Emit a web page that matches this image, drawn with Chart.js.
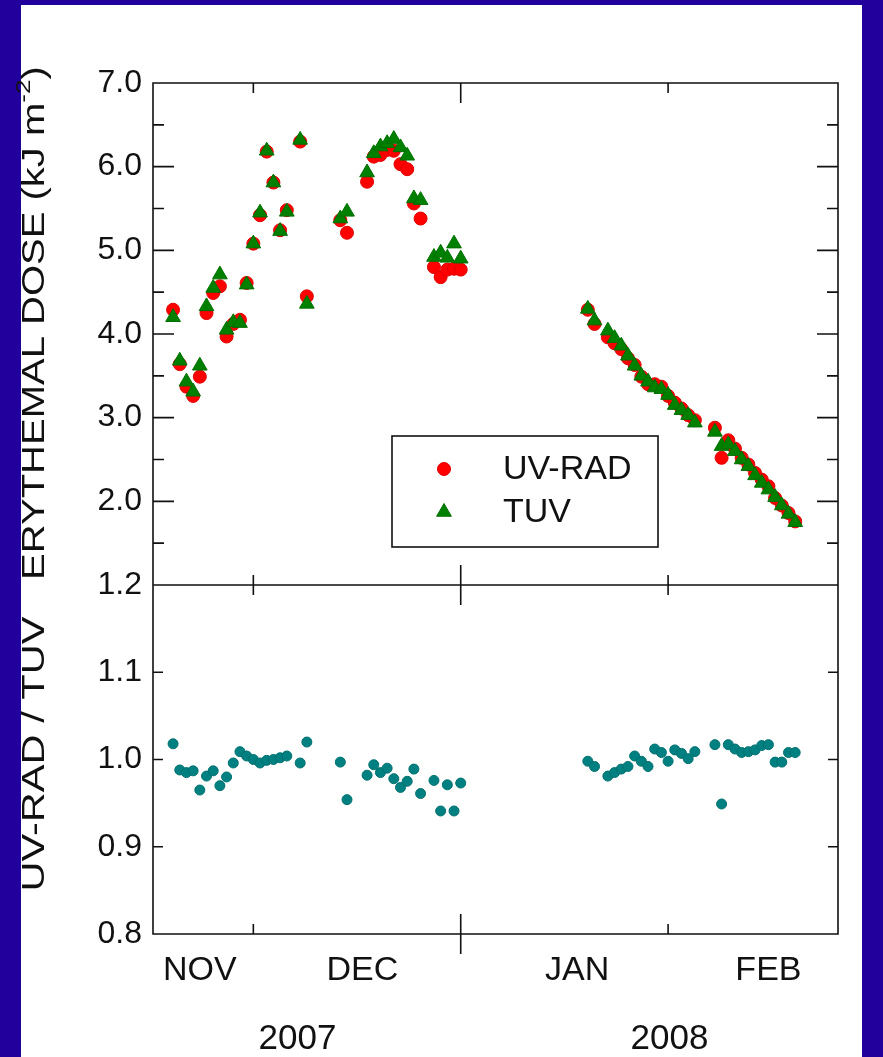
<!DOCTYPE html>
<html>
<head>
<meta charset="utf-8">
<script src="https://cdn.jsdelivr.net/npm/chart.js@4.4.1/dist/chart.umd.min.js"></script>
<style>
  html, body { margin: 0; padding: 0; background: #22009c; }
  #page { position: relative; width: 883px; height: 1057px; overflow: hidden; }
  #sheet { position: absolute; left: 21px; top: 5px; width: 841px; height: 1052px; background: #ffffff; }
  #c { position: absolute; left: 0; top: 0; }
</style>
</head>
<body>
<div id="page">
  <div id="sheet"></div>
  <canvas id="c" width="883" height="1057"></canvas>
</div>
<script>
// Day of each measurement, counted from 1 Nov 2007 (1 Dec = 30, 1 Jan = 61, 1 Feb = 92)
const DAYS = [18, 19, 20, 21, 22, 23, 24, 25, 26, 27, 28, 29, 30, 31, 32, 33, 34, 35, 37, 38,
              43, 44, 47, 48, 49, 50, 51, 52, 53, 54, 55, 57, 58, 59, 60, 61,
              80, 81, 83, 84, 85, 86, 87, 88, 89, 90, 91, 92, 93, 94, 95, 96,
              99, 100, 101, 102, 103, 104, 105, 106, 107, 108, 109, 110, 111];

// Daily erythemal dose, kJ m-2
const UV_RAD = [4.29, 3.64, 3.37, 3.26, 3.49, 4.25, 4.49, 4.57, 3.97, 4.12, 4.17, 4.61, 5.08, 5.42, 6.18, 5.81, 5.24, 5.48, 6.30, 4.45,
                5.36, 5.21, 5.82, 6.12, 6.14, 6.20, 6.19, 6.03, 5.97, 5.56, 5.38, 4.80, 4.68, 4.77, 4.78, 4.77,
                4.29, 4.12, 3.96, 3.89, 3.82, 3.71, 3.63, 3.49, 3.40, 3.40, 3.37, 3.26, 3.18, 3.11, 3.03, 2.97,
                2.88, 2.52, 2.73, 2.63, 2.52, 2.44, 2.34, 2.26, 2.18, 2.04, 1.95, 1.86, 1.76];
const TUV    = [4.20, 3.68, 3.43, 3.31, 3.62, 4.33, 4.55, 4.71, 4.05, 4.14, 4.13, 4.59, 5.08, 5.45, 6.19, 5.81, 5.23, 5.46, 6.32, 4.36,
                5.38, 5.46, 5.93, 6.16, 6.24, 6.28, 6.33, 6.23, 6.13, 5.62, 5.60, 4.92, 4.97, 4.91, 5.08, 4.90,
                4.30, 4.16, 4.04, 3.95, 3.86, 3.74, 3.62, 3.50, 3.43, 3.36, 3.34, 3.27, 3.15, 3.09, 3.03, 2.94,
                2.83, 2.66, 2.68, 2.60, 2.50, 2.42, 2.31, 2.22, 2.14, 2.05, 1.95, 1.85, 1.75];

// UV-RAD / TUV ratio for the same days
const RATIO  = [1.018, 0.988, 0.985, 0.987, 0.965, 0.981, 0.987, 0.970, 0.980, 0.996, 1.009, 1.004, 1.000, 0.996, 0.999, 1.000, 1.002, 1.004, 0.996, 1.020,
                0.997, 0.954, 0.982, 0.994, 0.985, 0.990, 0.978, 0.968, 0.975, 0.989, 0.961, 0.976, 0.941, 0.971, 0.941, 0.973,
                0.998, 0.992, 0.981, 0.985, 0.989, 0.992, 1.004, 0.998, 0.992, 1.012, 1.008, 0.998, 1.011, 1.007, 1.001, 1.009,
                1.017, 0.949, 1.017, 1.012, 1.008, 1.009, 1.011, 1.016, 1.017, 0.997, 0.997, 1.008, 1.008];

// Time axis
const MONTH_LABELS = ['NOV', 'DEC', 'JAN', 'FEB'];
const MONTH_LABEL_DAYS = [22, 46.3, 78.4, 107];
const MONTH_START_DAYS = [30, 61, 92];
const YEAR_START_DAY = 61;
const YEAR_LABELS = ['2007', '2008'];
const YEAR_LABEL_DAYS = [36.6, 92.2];

// Value axes
const DOSE_TICKS = [1, 2, 3, 4, 5, 6, 7];
const RATIO_TICKS = [0.8, 0.9, 1.0, 1.1, 1.2];

const FAMILY = "'Liberation Sans', Arial, Helvetica, sans-serif";
const INK = '#111111';

function pts(xs, ys) { return xs.map((x, i) => ({ x: x, y: ys[i] })); }

// Vertical axis title, drawn bottom-to-top and stretched along its length
function verticalTitle(ctx, parts, cx, cy, stretch) {
  ctx.save();
  ctx.translate(cx, cy);
  ctx.rotate(-Math.PI / 2);
  ctx.scale(stretch, 1);
  ctx.textAlign = 'left';
  ctx.textBaseline = 'middle';
  let total = 0;
  parts.forEach(p => { ctx.font = p.font; p.w = ctx.measureText(p.text).width; total += p.w; });
  let sx = -total / 2;
  parts.forEach(p => { ctx.font = p.font; ctx.fillText(p.text, sx, p.dy || 0); sx += p.w; });
  ctx.restore();
}

// Plot frame, inward tick marks, axis titles, year labels and the legend box
const decorations = {
  id: 'decorations',
  beforeDatasetsDraw(chart) {
    const ctx = chart.ctx;
    const x = chart.scales.x, y = chart.scales.y, y2 = chart.scales.y2;
    const L = x.left, R = x.right;
    ctx.save();
    ctx.strokeStyle = INK;
    ctx.lineWidth = 1.6;
    ctx.beginPath();
    ctx.rect(L, y.top, R - L, y.bottom - y.top);
    ctx.rect(L, y2.top, R - L, y2.bottom - y2.top);
    // dose axis: major ticks at labels, minor ticks between
    const majors = y.ticks.map(t => t.value);
    majors.forEach((v, i) => {
      const p = y.getPixelForValue(v);
      ctx.moveTo(L, p); ctx.lineTo(L + 21, p);
      ctx.moveTo(R, p); ctx.lineTo(R - 21, p);
      if (i < majors.length - 1) {
        const q = y.getPixelForValue((v + majors[i + 1]) / 2);
        ctx.moveTo(L, q); ctx.lineTo(L + 11, q);
        ctx.moveTo(R, q); ctx.lineTo(R - 11, q);
      }
    });
    // ratio axis
    y2.ticks.forEach(t => {
      const p = y2.getPixelForValue(t.value);
      ctx.moveTo(L, p); ctx.lineTo(L + 10, p);
      ctx.moveTo(R, p); ctx.lineTo(R - 10, p);
    });
    // month boundaries on every horizontal edge, longer at the new year
    MONTH_START_DAYS.forEach(d => {
      const p = x.getPixelForValue(d);
      const len = d === YEAR_START_DAY ? 20 : 10;
      ctx.moveTo(p, y.top); ctx.lineTo(p, y.top + len);
      ctx.moveTo(p, y.bottom); ctx.lineTo(p, y.bottom - len);
      ctx.moveTo(p, y2.top); ctx.lineTo(p, y2.top + len);
      ctx.moveTo(p, y2.bottom); ctx.lineTo(p, y2.bottom - len);
      if (d === YEAR_START_DAY) { ctx.moveTo(p, y2.bottom); ctx.lineTo(p, y2.bottom + len); }
    });
    ctx.stroke();
    ctx.restore();
  },
  afterDatasetsDraw(chart) {
    const ctx = chart.ctx;
    const x = chart.scales.x;
    ctx.save();
    ctx.fillStyle = INK;

    // axis titles
    const titleFont = '32px ' + FAMILY, supFont = '21px ' + FAMILY;
    verticalTitle(ctx, [
      { text: 'ERYTHEMAL DOSE (kJ m', font: titleFont },
      { text: '-2', font: supFont, dy: -11 },
      { text: ')', font: titleFont }
    ], 35, 323, 1.25);
    verticalTitle(ctx, [{ text: 'UV-RAD / TUV', font: titleFont }], 35, 754, 1.3);

    // years under the month names
    ctx.font = '35px ' + FAMILY;
    ctx.textAlign = 'center';
    ctx.textBaseline = 'alphabetic';
    YEAR_LABELS.forEach((s, i) => ctx.fillText(s, x.getPixelForValue(YEAR_LABEL_DAYS[i]), 1049));

    // legend
    const bx = 392, by = 436, bw = 266, bh = 111;
    ctx.fillStyle = '#ffffff';
    ctx.fillRect(bx, by, bw, bh);
    ctx.strokeStyle = INK;
    ctx.lineWidth = 1.6;
    ctx.strokeRect(bx, by, bw, bh);
    const ds = chart.data.datasets;
    [[ds[0], 469], [ds[1], 512]].forEach(([d, cy]) => {
      ctx.fillStyle = d.backgroundColor;
      ctx.strokeStyle = d.borderColor;
      ctx.lineWidth = d.borderWidth;
      Chart.helpers.drawPoint(ctx, { pointStyle: d.pointStyle, radius: d.pointRadius, borderWidth: d.borderWidth, rotation: 0 }, 444, cy);
      ctx.fillStyle = INK;
      ctx.font = '34px ' + FAMILY;
      ctx.textAlign = 'left';
      ctx.textBaseline = 'middle';
      ctx.fillText(d.label, 503, cy + 1);
    });
    ctx.restore();
  }
};

new Chart(document.getElementById('c'), {
  type: 'scatter',
  data: {
    datasets: [
      { label: 'UV-RAD', data: pts(DAYS, UV_RAD), yAxisID: 'y', pointStyle: 'circle', pointRadius: 6.5,
        backgroundColor: '#ff0000', borderColor: '#e00000', borderWidth: 1, order: 1 },
      { label: 'TUV', data: pts(DAYS, TUV), yAxisID: 'y', pointStyle: 'triangle', pointRadius: 8.5,
        backgroundColor: '#008000', borderColor: '#007000', borderWidth: 1, order: 0 },
      { label: 'UV-RAD / TUV', data: pts(DAYS, RATIO), yAxisID: 'y2', pointStyle: 'circle', pointRadius: 5,
        backgroundColor: '#008080', borderColor: '#007070', borderWidth: 1, order: 2 }
    ]
  },
  options: {
    responsive: false,
    animation: false,
    devicePixelRatio: 1,
    events: [],
    layout: { padding: { left: 0, right: 45, top: 83, bottom: 0 } },
    plugins: { legend: { display: false }, tooltip: { enabled: false } },
    scales: {
      x: {
        type: 'linear', position: 'bottom', min: 15, max: 117.4,
        grid: { display: false, drawTicks: false }, border: { display: false },
        afterBuildTicks: s => { s.ticks = MONTH_LABEL_DAYS.map(v => ({ value: v })); },
        afterFit: s => { s.height = 123; },
        ticks: { autoSkip: false, maxRotation: 0, padding: 16, color: INK,
                 font: { family: FAMILY, size: 34 },
                 callback: (v, i) => MONTH_LABELS[i] }
      },
      // left boxes are stacked in reverse declaration order, so the ratio panel is declared first
      y2: {
        type: 'linear', position: 'left', stack: 'panels', stackWeight: 349, min: 0.8, max: 1.2,
        grid: { display: false, drawTicks: false }, border: { display: false },
        afterBuildTicks: s => { s.ticks = RATIO_TICKS.map(v => ({ value: v })); },
        afterFit: s => { s.width = 153; },
        ticks: { autoSkip: false, padding: 11, color: INK, font: { family: FAMILY, size: 32 },
                 callback: v => v.toFixed(1) }
      },
      y: {
        type: 'linear', position: 'left', stack: 'panels', stackWeight: 502, min: 1, max: 7,
        grid: { display: false, drawTicks: false }, border: { display: false },
        afterBuildTicks: s => { s.ticks = DOSE_TICKS.map(v => ({ value: v })); },
        afterFit: s => { s.width = 153; },
        ticks: { autoSkip: false, padding: 11, color: INK, font: { family: FAMILY, size: 32 },
                 callback: v => (v === 1 ? '' : v.toFixed(1)) }
      }
    }
  },
  plugins: [decorations]
});
</script>
</body>
</html>
